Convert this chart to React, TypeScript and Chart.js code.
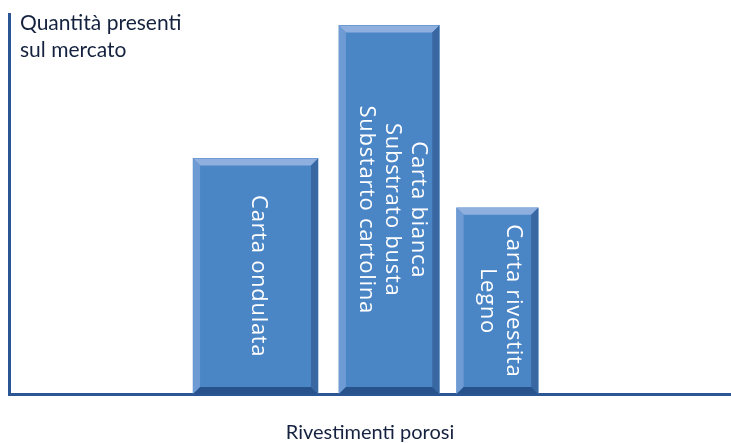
import { useEffect, useRef } from "react";
import { Chart, registerables } from "chart.js";

Chart.register(...registerables);

// ---- data ----
const categories = ["Carta ondulata", "Carta bianca, Substrato busta, Substarto cartolina", "Carta rivestita, Legno"];
const barLabels: string[][] = [
  ["Carta ondulata"],
  ["Carta bianca", "Substrato busta", "Substarto cartolina"],
  ["Carta rivestita", "Legno"],
];
const quantities = [62, 97, 49];
// extent of each (variable-width) bar along the category axis, in axis units 0..100
const barFrom = [25.5, 45.7, 62.0];
const barTo = [42.8, 59.6, 73.3];
const yAxisTitle = ["Quantità presenti", "sul mercato"];
const xAxisTitle = "Rivestimenti porosi";

// ---- styles ----
const FACE = "#4a85c6";
const BEVEL_TOP = "#8fafde";
const BEVEL_LEFT = "#6e9bd4";
const BEVEL_RIGHT = "#3867a2";
const BEVEL_BOTTOM = "#27528c";
const AXIS = "#2b5595";
const TEXT = "#15223f";
const BEVEL = 7;

const bevelPlugin = {
  id: "bevel",
  afterDatasetsDraw(chart: any) {
    const ctx = chart.ctx;
    chart.data.datasets.forEach((_: any, di: number) => {
      const meta = chart.getDatasetMeta(di);
      meta.data.forEach((el: any) => {
        const { x, y, base, width } = el.getProps(["x", "y", "base", "width"], true);
        const l = x - width / 2;
        const r = x + width / 2;
        const t = y;
        const b = base;
        const k = BEVEL;
        const poly = (pts: number[][], color: string) => {
          ctx.beginPath();
          ctx.moveTo(pts[0][0], pts[0][1]);
          for (let i = 1; i < pts.length; i++) ctx.lineTo(pts[i][0], pts[i][1]);
          ctx.closePath();
          ctx.fillStyle = color;
          ctx.fill();
        };
        ctx.save();
        poly([[l, t], [r, t], [r - k, t + k], [l + k, t + k]], BEVEL_TOP);
        poly([[l, t], [l + k, t + k], [l + k, b - k], [l, b]], BEVEL_LEFT);
        poly([[r, t], [r, b], [r - k, b - k], [r - k, t + k]], BEVEL_RIGHT);
        poly([[l, b], [l + k, b - k], [r - k, b - k], [r, b]], BEVEL_BOTTOM);
        ctx.restore();
      });
    });
  },
};

const labelPlugin = {
  id: "barLabels",
  afterDatasetsDraw(chart: any) {
    const ctx = chart.ctx;
    chart.data.datasets.forEach((_: any, di: number) => {
      const meta = chart.getDatasetMeta(di);
      const el = meta.data[0];
      if (!el) return;
      const { x, y, base } = el.getProps(["x", "y", "base"], true);
      const lines = barLabels[di];
      const lh = 26;
      ctx.save();
      ctx.translate(x + 3, (y + base) / 2);
      ctx.rotate(Math.PI / 2);
      ctx.fillStyle = "#ffffff";
      ctx.font = "22px 'Open Sans'";
      (ctx as any).letterSpacing = "0.7px";
      ctx.textAlign = "center";
      ctx.textBaseline = "middle";
      lines.forEach((line, i) => {
        const off = (i - (lines.length - 1) / 2) * lh;
        ctx.fillText(line, 0, off);
      });
      ctx.restore();
    });
  },
  afterDraw(chart: any) {
    const ctx = chart.ctx;
    ctx.save();
    ctx.fillStyle = TEXT;
    ctx.font = "21px Lato";
    ctx.textAlign = "left";
    ctx.textBaseline = "alphabetic";
    yAxisTitle.forEach((line, i) => ctx.fillText(line, 20, 30 + i * 27));
    ctx.restore();
  },
};

export default function App() {
  const ref = useRef<HTMLCanvasElement | null>(null);
  useEffect(() => {
    if (!ref.current) return;
    const datasets = quantities.map((q, i) => ({
      label: categories[i],
      data: [{ x: (barFrom[i] + barTo[i]) / 2, y: q }],
      backgroundColor: FACE,
      borderWidth: 0,
      grouped: false,
      barThickness: (c: any) => {
        const s = c.chart.scales.x;
        return s.getPixelForValue(barTo[i]) - s.getPixelForValue(barFrom[i]);
      },
    }));
    const chart = new Chart(ref.current, {
      type: "bar",
      data: { datasets },
      options: {
        animation: false,
        responsive: true,
        maintainAspectRatio: false,
        layout: { padding: { left: 9, top: 14, right: 0, bottom: 0 } },
        plugins: { legend: { display: false }, tooltip: { enabled: false } },
        scales: {
          x: {
            type: "linear",
            min: 0,
            max: 100,
            offset: false,
            z: 1,
            ticks: { display: false },
            grid: { display: false, drawTicks: false },
            border: { display: true, color: AXIS, width: 3 },
            title: {
              display: true,
              text: xAxisTitle,
              color: TEXT,
              font: { family: "Lato", size: 20, lineHeight: 1 },
              padding: { top: 29, bottom: 0 },
            },
          },
          y: {
            min: 0,
            max: 100,
            z: 1,
            ticks: { display: false },
            grid: { display: false, drawTicks: false },
            border: { display: true, color: AXIS, width: 3 },
          },
        },
      } as any,
      plugins: [bevelPlugin, labelPlugin],
    });
    return () => chart.destroy();
  }, []);
  return (
    <div style={{ position: "absolute", left: 0, top: 0, width: 731, height: 443 }}>
      <canvas ref={ref} />
    </div>
  );
}
